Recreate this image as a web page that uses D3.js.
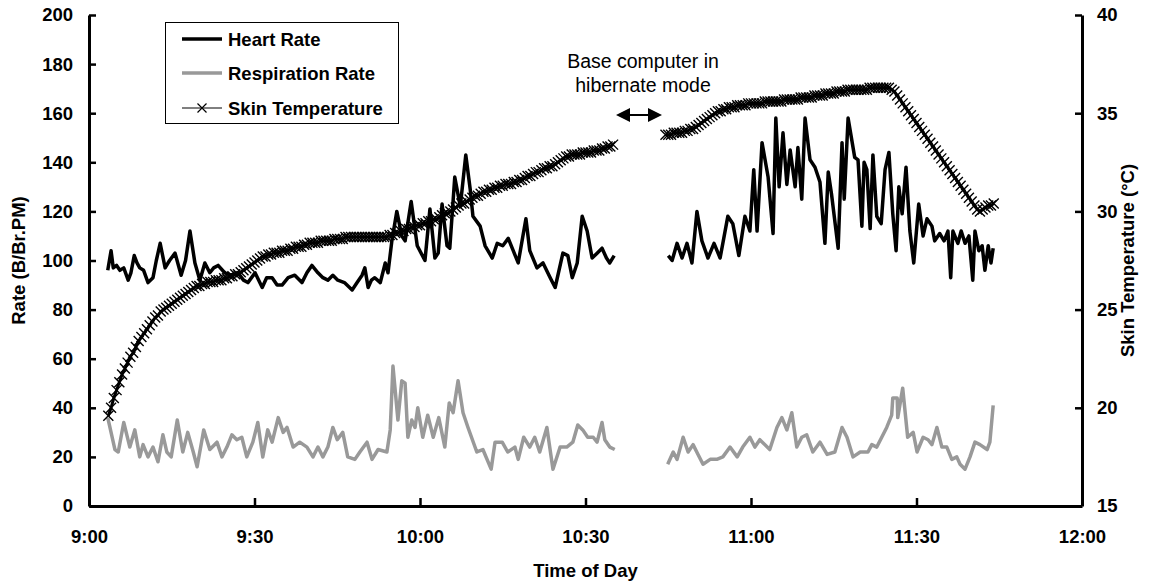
<!DOCTYPE html>
<html>
<head>
<meta charset="utf-8">
<style>
  body { margin: 0; background: #fff; }
  text { font-family: "Liberation Sans", Arial, sans-serif; }
</style>
</head>
<body>
<svg width="1153" height="584"></svg>
<script src="https://d3js.org/d3.v7.min.js"></script>
<script>

// time is minutes after 9:00
const timeTicks = [0, 30, 60, 90, 120, 150, 180];
const timeLabels = ["9:00", "9:30", "10:00", "10:30", "11:00", "11:30", "12:00"];
const rateTicks = [0, 20, 40, 60, 80, 100, 120, 140, 160, 180, 200];
const tempTicks = [15, 20, 25, 30, 35, 40];

// heart rate, before and after the hibernate gap
const hrTime1 = [3.4,4.0,4.4,5.0,5.6,6.3,7.1,7.6,8.2,8.7,9.2,9.9,10.7,11.6,12.2,12.9,13.8,14.6,15.6,16.7,17.5,18.3,19.2,20.1,21.0,21.9,22.6,23.4,24.6,25.8,27.0,28.0,28.8,30.1,31.4,32.2,33.2,34.1,35.0,36.1,37.3,38.6,39.5,40.4,41.5,42.4,43.3,44.2,45.1,46.3,47.7,48.6,49.5,50.0,50.6,51.2,51.8,52.8,53.7,54.2,54.9,55.8,56.7,57.3,58.4,59.5,60.9,61.8,62.7,63.3,64.0,64.9,65.4,66.3,67.3,68.3,69.1,69.6,70.9,71.8,73.1,74.0,75.0,76.0,76.9,77.8,79.2,79.9,81.2,82.3,83.6,84.5,85.9,86.8,87.6,88.5,89.4,90.3,91.2,92.1,93.0,93.8,94.4,95.2];
const hrValue1 = [96,104,97,98,96,97,92,95,102,99,97,96,91,93,100,107,97,100,103,94,100,112,99,92,99,95,97,98,95,94,95,92,91,95,89,93,93,90,90,93,94,91,95,98,95,93,92,94,92,91,88,91,94,97,89,92,93,91,99,95,108,120,110,108,124,106,100,121,101,103,123,106,105,134,122,143,129,118,114,106,101,107,106,109,104,99,117,104,97,99,93,89,103,102,93,99,118,112,101,103,105,101,99,102];
const hrTime2 = [105.0,105.7,106.6,107.5,108.4,109.3,110.2,111.1,112.2,113.3,114.4,115.8,116.7,117.8,118.9,119.8,120.5,121.1,122.0,123.1,124.0,124.5,125.1,125.8,126.5,127.1,128.0,128.5,129.2,129.8,130.7,131.6,132.5,133.4,134.0,134.6,135.8,136.5,136.9,137.6,138.8,139.4,140.1,140.5,141.0,141.6,142.1,142.8,143.6,144.3,145.0,145.7,146.3,146.8,147.4,148.1,148.8,149.5,150.4,151.2,151.9,152.8,153.3,154.2,155.0,155.7,156.2,156.6,157.5,158.1,158.8,159.5,160.2,160.6,161.3,161.9,162.4,163.0,163.5,163.9];
const hrValue2 = [102,100,107,101,107,99,120,108,101,107,101,118,115,102,118,112,137,112,148,134,111,158,130,152,131,145,130,146,125,158,141,138,132,107,136,127,105,148,125,158,142,141,114,140,137,113,143,118,115,137,144,119,104,130,119,138,112,99,123,110,117,114,108,111,108,112,93,112,107,112,107,110,92,112,104,106,96,106,99,105];

// respiration rate
const rrTime1 = [3.4,4.7,5.3,6.3,7.4,8.3,9.2,9.8,10.7,11.6,12.5,13.4,14.1,14.9,16.0,17.0,17.9,18.9,19.6,20.8,21.9,23.2,24.1,25.0,25.9,26.8,27.7,28.6,29.7,30.6,31.5,32.4,33.2,34.3,35.2,35.9,37.0,38.2,39.5,40.6,41.5,42.4,43.3,44.2,45.0,46.0,46.9,48.2,49.1,50.4,51.3,52.4,54.0,54.6,55.1,56.0,56.7,57.3,57.8,58.5,59.1,59.6,60.5,61.4,62.4,63.4,64.5,65.3,66.0,66.9,67.8,68.7,70.3,71.4,72.9,73.6,74.9,75.9,77.2,77.8,78.8,79.9,80.8,81.7,83.0,84.1,85.4,86.6,87.7,88.6,89.5,90.4,91.4,92.1,93.0,93.5,94.4,95.3];
const rrValue1 = [36,23,22,34,24,31,20,25,20,24,18,29,22,20,35,22,30,22,16,31,23,26,20,24,29,27,28,20,26,34,20,31,26,36,30,32,24,26,24,20,24,20,24,32,27,30,20,19,22,26,19,23,22,31,57,35,51,50,28,35,32,40,28,37,28,36,24,42,38,51,38,32,22,23,15,26,26,22,24,19,28,24,28,22,32,15,24,24,26,33,31,28,28,26,34,27,24,23];
const rrTime2 = [104.9,105.9,106.6,107.7,108.6,109.5,110.4,111.3,112.6,113.8,114.9,116.2,117.5,118.5,119.8,120.7,121.6,123.4,124.7,125.6,126.5,127.4,128.3,129.2,130.1,131.2,132.5,133.8,135.2,136.5,137.4,138.5,139.8,141.2,141.9,142.8,143.7,144.6,145.5,145.7,146.5,146.6,147.5,148.4,149.4,150.1,151.2,152.1,152.8,153.7,154.6,155.5,156.4,157.3,157.9,158.8,159.7,160.6,161.5,162.8,163.3,163.9];
const rrValue2 = [17,22,19,28,22,25,21,17,19,19,20,24,20,24,28,24,27,23,32,36,31,38,24,28,29,22,26,21,22,32,28,20,22,22,25,24,28,32,37,44,44,36,48,28,30,22,28,27,25,32,24,24,19,20,17,15,20,26,25,23,26,41];

// skin temperature, one reading every half minute
const tempStep = 0.5;
const tempStart1 = 3.5;
const tempValue1 = [19.6,20.0,20.5,20.9,21.3,21.7,22.0,22.3,22.6,22.8,23.1,23.4,23.6,23.8,24.0,24.2,24.4,24.6,24.7,24.9,25.0,25.1,25.2,25.3,25.4,25.5,25.6,25.7,25.8,25.9,26.0,26.1,26.2,26.2,26.3,26.3,26.4,26.4,26.4,26.5,26.5,26.5,26.6,26.6,26.7,26.7,26.8,26.8,26.9,27.0,27.1,27.2,27.3,27.4,27.5,27.6,27.7,27.7,27.8,27.8,27.9,27.9,27.9,28.0,28.0,28.0,28.1,28.1,28.2,28.2,28.2,28.3,28.3,28.4,28.4,28.4,28.4,28.5,28.5,28.5,28.5,28.5,28.6,28.6,28.6,28.6,28.7,28.7,28.7,28.7,28.7,28.7,28.7,28.7,28.7,28.7,28.7,28.7,28.7,28.7,28.7,28.7,28.8,28.8,28.9,28.9,29.0,29.0,29.1,29.1,29.2,29.2,29.3,29.3,29.4,29.4,29.5,29.5,29.6,29.6,29.7,29.8,29.9,29.9,30.0,30.1,30.2,30.3,30.4,30.4,30.5,30.6,30.7,30.8,30.8,30.9,31.0,31.0,31.1,31.1,31.2,31.2,31.3,31.3,31.4,31.4,31.4,31.5,31.5,31.6,31.6,31.7,31.8,31.8,31.9,32.0,32.0,32.1,32.2,32.2,32.3,32.3,32.4,32.5,32.6,32.7,32.8,32.8,32.9,32.9,32.9,32.9,33.0,33.0,33.0,33.0,33.1,33.1,33.1,33.2,33.2,33.3,33.3,33.4];
const tempStart2 = 104.5;
const tempValue2 = [33.9,33.9,33.9,34.0,34.0,34.0,34.0,34.1,34.1,34.2,34.2,34.3,34.4,34.5,34.6,34.7,34.8,34.9,35.0,35.1,35.1,35.2,35.2,35.3,35.3,35.3,35.4,35.4,35.4,35.4,35.5,35.5,35.5,35.5,35.5,35.5,35.6,35.6,35.6,35.6,35.6,35.6,35.6,35.7,35.7,35.7,35.7,35.7,35.7,35.8,35.8,35.8,35.8,35.8,35.9,35.9,35.9,35.9,36.0,36.0,36.0,36.0,36.1,36.1,36.1,36.1,36.2,36.2,36.2,36.2,36.2,36.2,36.2,36.2,36.3,36.3,36.3,36.3,36.3,36.3,36.3,36.3,36.2,36.1,35.9,35.7,35.5,35.3,35.1,34.9,34.7,34.5,34.3,34.1,33.9,33.7,33.5,33.3,33.1,32.9,32.7,32.5,32.3,32.1,31.9,31.7,31.5,31.3,31.1,30.9,30.7,30.5,30.3,30.1,30.0,30.1,30.2,30.3,30.3,30.4];

const seriesNames = ["Heart Rate", "Respiration Rate", "Skin Temperature"];

const svg = d3.select("svg");
const plotLeft = 89, plotRight = 1082, plotTop = 15, plotBottom = 506;

const x = d3.scaleLinear().domain([0, 180]).range([plotLeft, plotRight]);
const yRate = d3.scaleLinear().domain([0, 200]).range([plotBottom, plotTop]);
const yTemp = d3.scaleLinear().domain([15, 40]).range([plotBottom, plotTop]);

const fontBold = "bold 18.5px 'Liberation Sans', Arial, sans-serif";

function pairs(times, values) {
  return times.map((t, i) => [t, values[i]]);
}
function tempPairs(start, values) {
  return values.map((v, i) => [start + i * tempStep, v]);
}

// series
const rateLine = d3.line().x(d => x(d[0])).y(d => yRate(d[1]));
const tempLine = d3.line().x(d => x(d[0])).y(d => yTemp(d[1]));

const plot = svg.append("g");

[pairs(rrTime1, rrValue1), pairs(rrTime2, rrValue2)].forEach(seg => {
  plot.append("path")
    .attr("d", rateLine(seg))
    .attr("fill", "none")
    .attr("stroke", "#999999")
    .attr("stroke-width", 3.5)
    .attr("stroke-linejoin", "round");
});

[pairs(hrTime1, hrValue1), pairs(hrTime2, hrValue2)].forEach(seg => {
  plot.append("path")
    .attr("d", rateLine(seg))
    .attr("fill", "none")
    .attr("stroke", "#000")
    .attr("stroke-width", 3.5)
    .attr("stroke-linejoin", "round");
});

const crossPath = "M-5,-5L5,5M-5,5L5,-5";
[tempPairs(tempStart1, tempValue1), tempPairs(tempStart2, tempValue2)].forEach(seg => {
  plot.append("path")
    .attr("d", tempLine(seg))
    .attr("fill", "none")
    .attr("stroke", "#000")
    .attr("stroke-width", 3);
  plot.append("g")
    .selectAll("path")
    .data(seg)
    .enter()
    .append("path")
    .attr("d", crossPath)
    .attr("transform", d => `translate(${x(d[0])},${yTemp(d[1])})`)
    .attr("stroke", "#000")
    .attr("stroke-width", 1.4);
});

// axes
function styleAxis(g) {
  g.select(".domain").attr("stroke", "#000").attr("stroke-width", 3);
  g.selectAll(".tick line").attr("stroke", "#000").attr("stroke-width", 2.5);
  g.selectAll(".tick text").style("font", fontBold).attr("fill", "#000");
}

svg.append("g")
  .attr("transform", `translate(${plotLeft},0)`)
  .call(d3.axisLeft(yRate).tickValues(rateTicks).tickSizeInner(-7).tickSizeOuter(0).tickPadding(16))
  .call(styleAxis);

svg.append("g")
  .attr("transform", `translate(${plotRight},0)`)
  .call(d3.axisRight(yTemp).tickValues(tempTicks).tickSizeInner(-7).tickSizeOuter(0).tickPadding(15))
  .call(styleAxis);

svg.append("g")
  .attr("transform", `translate(0,${plotBottom})`)
  .call(d3.axisBottom(x).tickValues(timeTicks).tickFormat((d, i) => timeLabels[i])
    .tickSizeInner(-8).tickSizeOuter(0).tickPadding(24))
  .call(styleAxis);

// axis titles
svg.append("text")
  .attr("x", (plotLeft + plotRight) / 2)
  .attr("y", 577)
  .attr("text-anchor", "middle")
  .style("font", fontBold)
  .text("Time of Day");

svg.append("text")
  .attr("transform", `translate(25,${(plotTop + plotBottom) / 2}) rotate(-90)`)
  .attr("text-anchor", "middle")
  .style("font", fontBold)
  .text("Rate (B/Br.PM)");

svg.append("text")
  .attr("transform", `translate(1134,${(plotTop + plotBottom) / 2}) rotate(-90)`)
  .attr("text-anchor", "middle")
  .style("font", fontBold)
  .text("Skin Temperature (°C)");

// legend
const legend = svg.append("g");
legend.append("rect")
  .attr("x", 165.5).attr("y", 22.5)
  .attr("width", 233).attr("height", 101)
  .attr("fill", "#fff")
  .attr("stroke", "#000")
  .attr("stroke-width", 1);

const legendRows = [39, 73, 108];
const legendColors = ["#000", "#999999", "#000"];
const legendWidths = [3.5, 3.5, 1];

seriesNames.forEach((name, i) => {
  const ly = legendRows[i];
  legend.append("line")
    .attr("x1", 182).attr("x2", 222)
    .attr("y1", ly).attr("y2", ly)
    .attr("stroke", legendColors[i])
    .attr("stroke-width", legendWidths[i]);
  if (i === 2) {
    legend.append("path")
      .attr("d", "M-4.5,-4.5L4.5,4.5M-4.5,4.5L4.5,-4.5")
      .attr("transform", `translate(202,${ly})`)
      .attr("stroke", "#000")
      .attr("stroke-width", 1.2);
  }
  legend.append("text")
    .attr("x", 228)
    .attr("y", ly + 6.5)
    .style("font", fontBold)
    .text(name);
});

// hibernate annotation
const note = svg.append("g");
note.append("text")
  .attr("x", 643).attr("y", 68)
  .attr("text-anchor", "middle")
  .style("font", "19.5px 'Liberation Sans', Arial, sans-serif")
  .text("Base computer in");
note.append("text")
  .attr("x", 643).attr("y", 92)
  .attr("text-anchor", "middle")
  .style("font", "19.5px 'Liberation Sans', Arial, sans-serif")
  .text("hibernate mode");

const arrowY = 115, arrowL = 616, arrowR = 662;
note.append("line")
  .attr("x1", arrowL + 8).attr("x2", arrowR - 8)
  .attr("y1", arrowY).attr("y2", arrowY)
  .attr("stroke", "#000").attr("stroke-width", 2);
note.append("path")
  .attr("d", `M${arrowL},${arrowY}L${arrowL + 14},${arrowY - 7}L${arrowL + 14},${arrowY + 7}Z`)
  .attr("fill", "#000");
note.append("path")
  .attr("d", `M${arrowR},${arrowY}L${arrowR - 14},${arrowY - 7}L${arrowR - 14},${arrowY + 7}Z`)
  .attr("fill", "#000");

</script>
</body>
</html>
